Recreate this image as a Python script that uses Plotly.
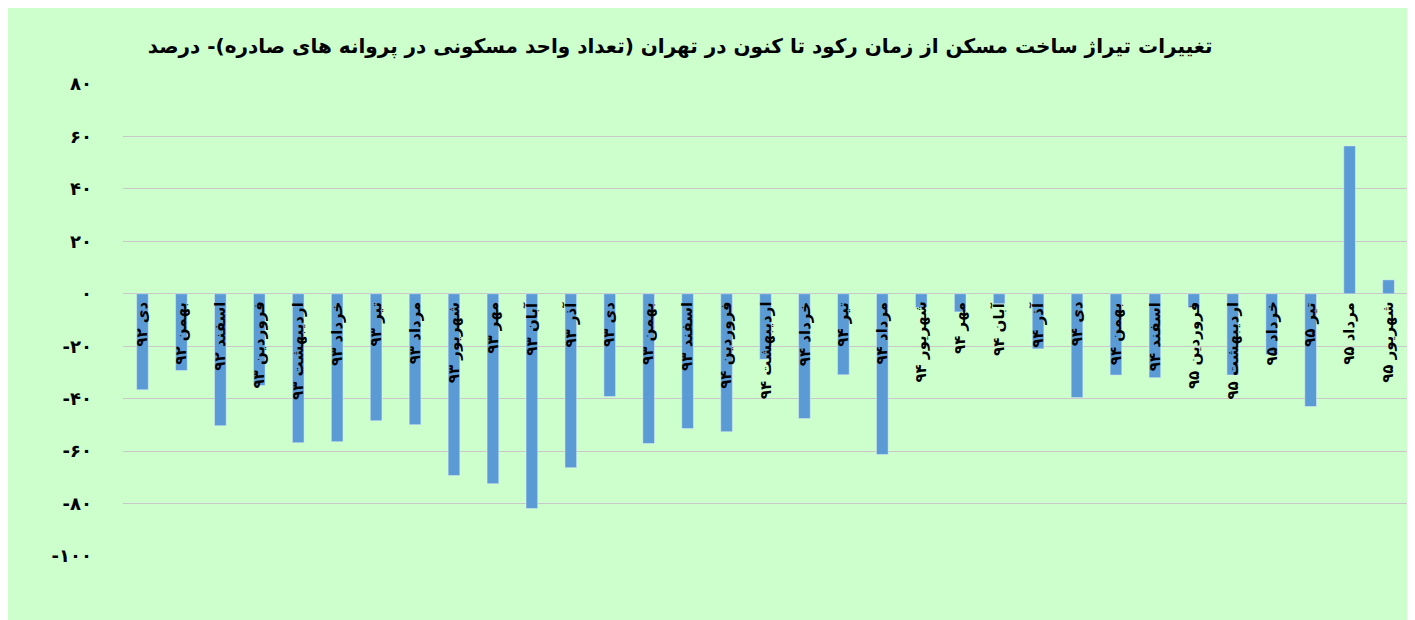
import plotly.graph_objects as go

# months (Persian calendar) and % change
months = ['دی ۹۲', 'بهمن ۹۲', 'اسفند ۹۲', 'فروردین ۹۳', 'اردیبهشت ۹۳', 'خرداد ۹۳', 'تیر ۹۳',
          'مرداد ۹۳', 'شهریور ۹۳', 'مهر ۹۳', 'آبان ۹۳', 'آذر ۹۳', 'دی ۹۳', 'بهمن ۹۳',
          'اسفند ۹۳', 'فروردین ۹۴', 'اردیبهشت ۹۴', 'خرداد ۹۴', 'تیر ۹۴', 'مرداد ۹۴',
          'شهریور ۹۴', 'مهر ۹۴', 'آبان ۹۴', 'آذر ۹۴', 'دی ۹۴', 'بهمن ۹۴', 'اسفند ۹۴',
          'فروردین ۹۵', 'اردیبهشت ۹۵', 'خرداد ۹۵', 'تیر ۹۵', 'مرداد ۹۵', 'شهریور ۹۵']
change = [-36.6, -29.3, -50.3, -35, -56.8, -56.4, -48.4,
          -49.9, -69.3, -72.4, -81.9, -66.3, -39.2, -57.1,
          -51.4, -52.6, -25, -47.6, -30.9, -61.3,
          -5.3, -6.9, -3.8, -21, -39.6, -31, -32,
          -5.3, -31, -23.2, -43, 56.4, 5.3]

tick_vals = [80, 60, 40, 20, 0, -20, -40, -60, -80, -100]
tick_text = ['۸۰', '۶۰', '۴۰', '۲۰', '۰', '‎-۲۰', '‎-۴۰', '‎-۶۰', '‎-۸۰', '‎-۱۰۰']

title = 'تغییرات تیراژ ساخت مسکن از زمان رکود تا کنون در تهران (تعداد واحد مسکونی در پروانه های صادره)- درصد'

fig = go.Figure(go.Bar(x=months, y=change, marker_color='#5b9bd5', width=0.3))

for m in months:
    fig.add_annotation(x=m, y=0, yshift=-6, text='<b>' + m + '</b>', textangle=-90, showarrow=False,
                       yanchor='top', xanchor='center', font=dict(size=15, color='black'))

fig.update_layout(
    width=1415, height=620,
    paper_bgcolor='#ccffcc', plot_bgcolor='#ccffcc',
    font=dict(family='DejaVu Sans', color='black'),
    margin=dict(l=115, r=15, t=76, b=72),
    title=dict(text='<b>' + title + '</b>', x=0.475, xanchor='center', y=0.95, font=dict(size=20)),
    showlegend=False,
    xaxis=dict(showticklabels=False, showgrid=False, zeroline=False),
    yaxis=dict(range=[-100, 80], tickvals=tick_vals, ticktext=['<b>' + t + '</b>' for t in tick_text],
               showgrid=True, gridcolor='#c8c8c8', zeroline=False, ticks='', ticklabelstandoff=30,
               tickfont=dict(size=18)),
)

fig.write_html("out.html")
